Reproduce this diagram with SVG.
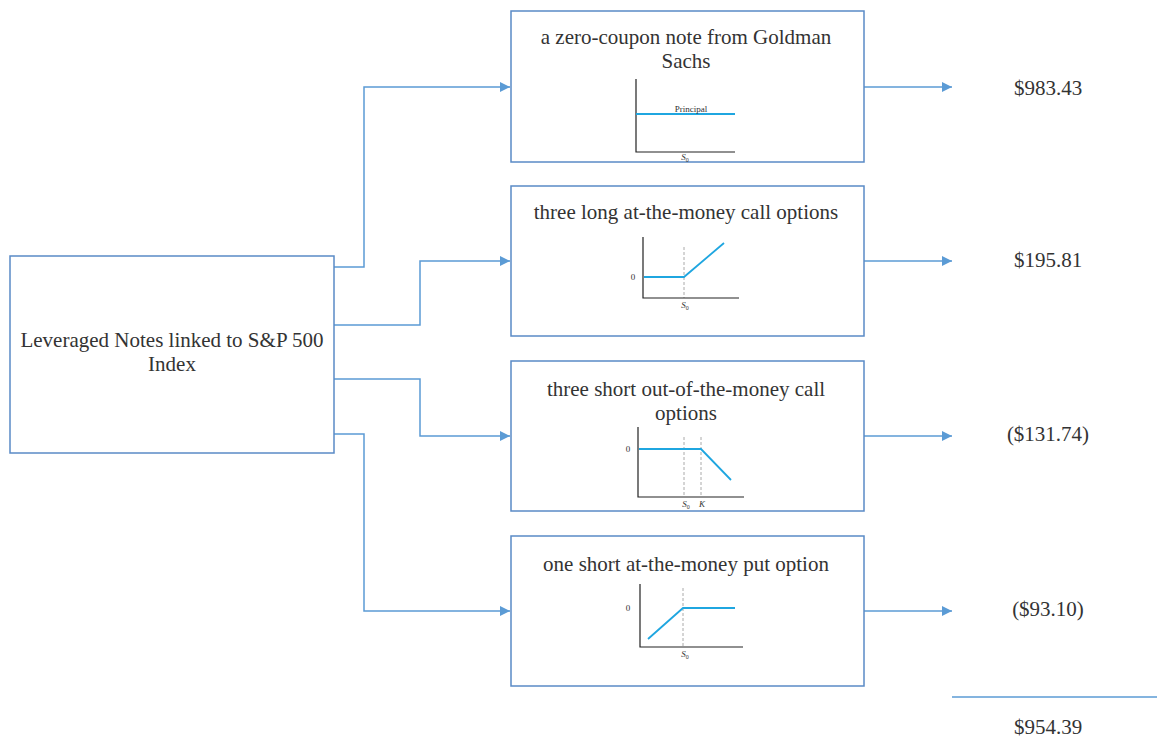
<svg xmlns="http://www.w3.org/2000/svg" width="1157" height="738" viewBox="0 0 1157 738">
<defs>
<marker id="arr" viewBox="0 0 10 10" refX="10" refY="5" markerWidth="10" markerHeight="10" markerUnits="userSpaceOnUse" orient="auto">
<path d="M0,0 L10,5 L0,10 z" fill="#5b9bd5"/>
</marker>
<style>
.box{fill:#fff;stroke:#5a8ac6;stroke-width:1.5}
.conn{fill:none;stroke:#5b9bd5;stroke-width:1.5;marker-end:url(#arr)}
.t{font-family:"Liberation Serif",serif;font-size:21px;fill:#333;text-anchor:middle}
.v{font-family:"Liberation Serif",serif;font-size:21px;fill:#333;text-anchor:middle}
.ax{fill:none;stroke:#222;stroke-width:1.2}
.pl{fill:none;stroke:#1fa6e0;stroke-width:1.8}
.dash{fill:none;stroke:#aaa;stroke-width:1;stroke-dasharray:3,2}
.s{font-family:"Liberation Serif",serif;font-size:9px;fill:#333;text-anchor:middle}
.i{font-style:italic}
.sub{font-size:6px}
</style>
</defs>
<g id="connectors">
<path class="conn" d="M334,267 H364 V87 H510"/>
<path class="conn" d="M334,325 H420 V261 H510"/>
<path class="conn" d="M334,379 H420 V436 H510"/>
<path class="conn" d="M334,434 H364 V611 H510"/>
<path class="conn" d="M864,87 H952"/>
<path class="conn" d="M864,261 H952"/>
<path class="conn" d="M864,436 H952"/>
<path class="conn" d="M864,611 H952"/>
<path d="M952,697 H1157" fill="none" stroke="#5b9bd5" stroke-width="1.5"/>
</g>
<g id="source">
<rect class="box" x="10" y="256" width="324" height="197"/>
<text class="t" x="172" y="347">Leveraged Notes linked to S&amp;P 500</text>
<text class="t" x="172" y="371">Index</text>
</g>
<g id="zero-coupon">
<rect class="box" x="511" y="11" width="353" height="151"/>
<text class="t" x="686" y="44">a zero-coupon note from Goldman</text>
<text class="t" x="686" y="68">Sachs</text>
<path class="ax" d="M636,79 V152 H735"/>
<path class="pl" d="M636,114 H735"/>
<text class="s" x="691" y="112">Principal</text>
<text class="s" x="685" y="160"><tspan class="i">S</tspan><tspan class="sub" dy="1.5">0</tspan></text>
</g>
<g id="long-call">
<rect class="box" x="511" y="186" width="353" height="150"/>
<text class="t" x="686" y="219">three long at-the-money call options</text>
<path class="dash" d="M684,247 V298"/>
<path class="ax" d="M643,237 V298 H739"/>
<path class="pl" d="M644,277 H684 L724,243"/>
<text class="s" x="633" y="280">0</text>
<text class="s" x="685" y="308"><tspan class="i">S</tspan><tspan class="sub" dy="1.5">0</tspan></text>
</g>
<g id="short-call">
<rect class="box" x="511" y="361" width="353" height="150"/>
<text class="t" x="686" y="396">three short out-of-the-money call</text>
<text class="t" x="686" y="420">options</text>
<path class="dash" d="M684,437 V497 M701,437 V497"/>
<path class="ax" d="M638,427 V497 H744"/>
<path class="pl" d="M639,449 H701 L731,480"/>
<text class="s" x="628" y="452">0</text>
<text class="s" x="686" y="507"><tspan class="i">S</tspan><tspan class="sub" dy="1.5">0</tspan></text>
<text class="s i" x="702" y="507">K</text>
</g>
<g id="short-put">
<rect class="box" x="511" y="536" width="353" height="150"/>
<text class="t" x="686" y="571">one short at-the-money put option</text>
<path class="dash" d="M683,588 V647"/>
<path class="ax" d="M640,584 V647 H743"/>
<path class="pl" d="M648,639 L683,608 H735"/>
<text class="s" x="628" y="611">0</text>
<text class="s" x="685" y="657"><tspan class="i">S</tspan><tspan class="sub" dy="1.5">0</tspan></text>
</g>
<g id="values">
<text class="v" x="1048" y="95">$983.43</text>
<text class="v" x="1048" y="267">$195.81</text>
<text class="v" x="1048" y="441">($131.74)</text>
<text class="v" x="1048" y="616">($93.10)</text>
<text class="v" x="1048" y="734">$954.39</text>
</g>
</svg>
